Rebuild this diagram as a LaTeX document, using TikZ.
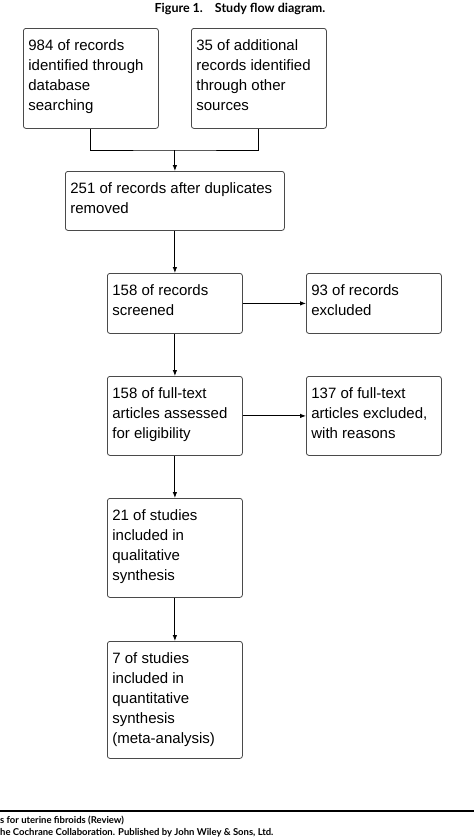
\documentclass[tikz,border=0pt]{standalone}
\usepackage{fontspec}
\setmainfont{Liberation Sans}
\newfontfamily\capfont{Lato}
\usetikzlibrary{arrows.meta}

\definecolor{boxgray}{HTML}{4A4A4A}
% text of a box: width, height, lines
\newcommand{\boxbody}[3]{\parbox[c][#2pt][t]{#1pt}{\raggedright\fontsize{15}{20}\selectfont\vspace*{11pt}#3}}

\tikzset{
    flowbox/.style={draw=boxgray, line width=0.8pt, rounded corners=2.5pt,
        inner xsep=5pt, inner ysep=0pt, anchor=north west},
    flowline/.style={line width=0.9pt},
    flowarrow/.style={line width=0.9pt, -{Latex[length=6pt,width=4.5pt]}}
}

\begin{document}
\begin{tikzpicture}[x=1pt, y=-1pt]
    \useasboundingbox (0,0) rectangle (474,838);

    % title
    \node[anchor=base, inner sep=0pt] (title) at (240,12)
        {\capfont\bfseries\fontsize{12.5}{14}\selectfont Figure 1.\hspace{12pt}Study flow diagram.};

    % identification
    \node[flowbox] (dbrec) at (23,28) {\boxbody{125}{100}{984 of records\\identified through\\database\\searching}};
    \node[flowbox] (otherrec) at (191,28) {\boxbody{125}{100}{35 of additional\\records identified\\through other\\sources}};
    \node[flowbox] (dedup) at (65,171) {\boxbody{209}{59}{251 of records after duplicates\\removed}};

    % screening
    \node[flowbox] (screen) at (107,273) {\boxbody{125}{60}{158 of records\\screened}};
    \node[flowbox] (screenexcl) at (306,273) {\boxbody{125}{60}{93 of records\\excluded}};

    % eligibility
    \node[flowbox] (fulltext) at (107,376) {\boxbody{125}{79}{158 of full-text\\articles assessed\\for eligibility}};
    \node[flowbox] (fulltextexcl) at (306,376) {\boxbody{125}{79}{137 of full-text\\articles excluded,\\with reasons}};

    % included
    \node[flowbox] (qual) at (107,498) {\boxbody{125}{99}{21 of studies\\included in\\qualitative\\synthesis}};
    \node[flowbox] (quant) at (107,641) {\boxbody{125}{117}{7 of studies\\included in\\quantitative\\synthesis\\(meta-analysis)}};

    % connectors
    \coordinate (merge) at (dedup.north |- 0,150);
    \draw[flowline] (dbrec.south) |- (merge) -| (otherrec.south);
    \draw[flowarrow] (merge) -- (dedup.north);
    \draw[flowarrow] (dedup.south) -- (screen.north);
    \draw[flowarrow] (screen.east) -- (screenexcl.west);
    \draw[flowarrow] (screen.south) -- (fulltext.north);
    \draw[flowarrow] (fulltext.east) -- (fulltextexcl.west);
    \draw[flowarrow] (fulltext.south) -- (qual.north);
    \draw[flowarrow] (qual.south) -- (quant.north);

    % page footer
    \draw[line width=1.2pt] (0,811) -- (474,811);
    \node[anchor=base west, inner sep=0pt] (foota) at (0,823)
        {\capfont\bfseries\fontsize{9.5}{10}\selectfont s for uterine fibroids (Review)};
    \node[anchor=base west, inner sep=0pt] (footb) at (0,835)
        {\capfont\bfseries\fontsize{9.5}{10}\selectfont he Cochrane Collaboration. Published by John Wiley \& Sons, Ltd.};
\end{tikzpicture}
\end{document}
